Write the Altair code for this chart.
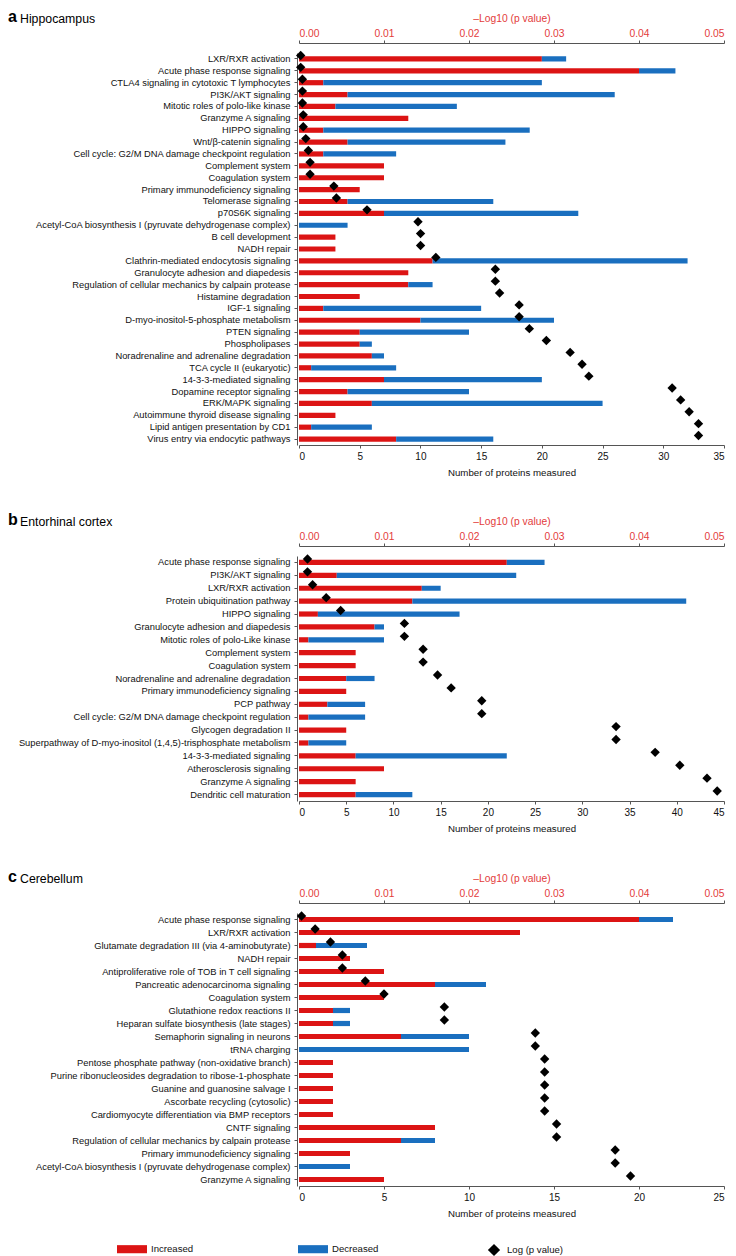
import altair as alt
import pandas as pd

# ---------------- data ----------------
cats_a = [
    "LXR/RXR activation", "Acute phase response signaling",
    "CTLA4 signaling in cytotoxic T lymphocytes", "PI3K/AKT signaling",
    "Mitotic roles of polo-like kinase", "Granzyme A signaling", "HIPPO signaling",
    "Wnt/β-catenin signaling", "Cell cycle: G2/M DNA damage checkpoint regulation",
    "Complement system", "Coagulation system", "Primary immunodeficiency signaling",
    "Telomerase signaling", "p70S6K signaling",
    "Acetyl-CoA biosynthesis I (pyruvate dehydrogenase complex)", "B cell development",
    "NADH repair", "Clathrin-mediated endocytosis signaling",
    "Granulocyte adhesion and diapedesis",
    "Regulation of cellular mechanics by calpain protease", "Histamine degradation",
    "IGF-1 signaling", "D-myo-inositol-5-phosphate metabolism", "PTEN signaling",
    "Phospholipases", "Noradrenaline and adrenaline degradation",
    "TCA cycle II (eukaryotic)", "14-3-3-mediated signaling",
    "Dopamine receptor signaling", "ERK/MAPK signaling",
    "Autoimmune thyroid disease signaling", "Lipid antigen presentation by CD1",
    "Virus entry via endocytic pathways",
]
inc_a = [20, 28, 2, 4, 3, 9, 2, 4, 2, 7, 7, 5, 4, 7, 0, 3, 3, 11, 9, 9, 5, 2, 10, 5, 5, 6, 1, 7, 4, 6, 3, 1, 8]
dec_a = [2, 3, 18, 22, 10, 0, 17, 13, 6, 0, 0, 0, 12, 16, 4, 0, 0, 21, 0, 2, 0, 13, 11, 9, 1, 1, 7, 13, 10, 19, 0, 5, 8]
p_a = [0.0002, 0.0002, 0.0004, 0.0004, 0.0004, 0.0005, 0.0005, 0.0008, 0.0011, 0.0013,
       0.0013, 0.0041, 0.0044, 0.0080, 0.0140, 0.0143, 0.0143, 0.0161, 0.0231, 0.0231,
       0.0236, 0.0259, 0.0259, 0.0271, 0.0291, 0.0319, 0.0333, 0.0341, 0.0439, 0.0449,
       0.0459, 0.0470, 0.0470]

cats_b = [
    "Acute phase response signaling", "PI3K/AKT signaling", "LXR/RXR activation",
    "Protein ubiquitination pathway", "HIPPO signaling",
    "Granulocyte adhesion and diapedesis", "Mitotic roles of polo-Like kinase",
    "Complement system", "Coagulation system",
    "Noradrenaline and adrenaline degradation", "Primary immunodeficiency signaling",
    "PCP pathway", "Cell cycle: G2/M DNA damage checkpoint regulation",
    "Glycogen degradation II",
    "Superpathway of D-myo-inositol (1,4,5)-trisphosphate metabolism",
    "14-3-3-mediated signaling", "Atherosclerosis signaling", "Granzyme A signaling",
    "Dendritic cell maturation",
]
inc_b = [22, 4, 13, 12, 2, 8, 1, 6, 6, 5, 5, 3, 1, 5, 1, 6, 9, 6, 6]
dec_b = [4, 19, 2, 29, 15, 1, 8, 0, 0, 3, 0, 4, 6, 0, 4, 16, 0, 0, 6]
p_b = [0.0010, 0.0010, 0.0016, 0.0032, 0.0049, 0.0124, 0.0124, 0.0146, 0.0146, 0.0163,
       0.0179, 0.0215, 0.0215, 0.0373, 0.0373, 0.0419, 0.0448, 0.0480, 0.0492]

cats_c = [
    "Acute phase response signaling", "LXR/RXR activation",
    "Glutamate degradation III (via 4-aminobutyrate)", "NADH repair",
    "Antiproliferative role of TOB in T cell signaling",
    "Pancreatic adenocarcinoma signaling", "Coagulation system",
    "Glutathione redox reactions II", "Heparan sulfate biosynthesis (late stages)",
    "Semaphorin signaling in neurons", "tRNA charging",
    "Pentose phosphate pathway (non-oxidative branch)",
    "Purine ribonucleosides degradation to ribose-1-phosphate",
    "Guanine and guanosine salvage I", "Ascorbate recycling (cytosolic)",
    "Cardiomyocyte differentiation via BMP receptors", "CNTF signaling",
    "Regulation of cellular mechanics by calpain protease",
    "Primary immunodeficiency signaling",
    "Acetyl-CoA biosynthesis I (pyruvate dehydrogenase complex)",
    "Granzyme A signaling",
]
inc_c = [20, 13, 1, 3, 5, 8, 5, 2, 2, 6, 0, 2, 2, 2, 2, 2, 8, 6, 3, 0, 5]
dec_c = [2, 0, 3, 0, 0, 3, 0, 1, 1, 4, 10, 0, 0, 0, 0, 0, 0, 2, 0, 3, 0]
p_c = [0.0003, 0.0019, 0.0037, 0.0051, 0.0051, 0.0078, 0.0100, 0.0171, 0.0171, 0.0278,
       0.0278, 0.0289, 0.0289, 0.0289, 0.0289, 0.0289, 0.0303, 0.0303, 0.0372, 0.0372,
       0.0390]

status_names = ["Increased", "Decreased"]
pval_name = "Log (p value)"
p_ticks = [0.0, 0.01, 0.02, 0.03, 0.04, 0.05]

# ---------------- style ----------------
RED = "#dc1414"
BLUE = "#1a6fbf"
TXT_RED = "#e33b3b"
GREY = "#555555"
FONT = "Liberation Sans"
W = 425

color_legend = alt.Legend(
    orient="none", legendX=-182, legendY=1181, direction="horizontal",
    title=None, symbolType="M-1,-0.27L1,-0.27L1,0.27L-1,0.27Z", symbolSize=900,
    symbolStrokeWidth=0, columnPadding=104, labelFont=FONT, labelFontSize=9.6,
    labelOffset=4, labelColor="#111",
)
shape_legend = alt.Legend(
    orient="none", legendX=188, legendY=1190, title=None, symbolSize=150,
    labelFont=FONT, labelFontSize=9.6, labelOffset=6, labelColor="#111",
    symbolFillColor="black", symbolStrokeColor="black",
)


def panel(letter, name, cats, inc, dec, pv, xmax, step):
    rows = []
    for c, i, d in zip(cats, inc, dec):
        if i > 0:
            rows.append({"pathway": c, "status": status_names[0], "n": i, "ord": 0})
        if d > 0:
            rows.append({"pathway": c, "status": status_names[1], "n": d, "ord": 1})
    bars_df = pd.DataFrame(rows)
    pts_df = pd.DataFrame({"pathway": cats, "p": pv, "series": pval_name})
    height = round(step * len(cats))

    yenc = alt.Y(
        "pathway:N", sort=cats,
        scale=alt.Scale(paddingInner=0, paddingOuter=0),
        axis=alt.Axis(title=None, labelFont=FONT, labelFontSize=9.35, labelColor="#111",
                      labelPadding=4, tickSize=3, tickColor=GREY, domainColor=GREY,
                      offset=2, labelLimit=400),
    )

    bars = alt.Chart(bars_df).mark_bar(size=5.2).encode(
        x=alt.X("n:Q", stack="zero",
                scale=alt.Scale(domain=[0, xmax], nice=False),
                axis=alt.Axis(values=list(range(0, xmax + 1, 5)),
                              title="Number of proteins measured", grid=False,
                              labelFont=FONT, labelFontSize=10, labelColor="#111",
                              titleFont=FONT, titleFontSize=9.7, titleFontWeight="normal",
                              titleColor="#111", titlePadding=6, tickSize=3,
                              tickColor=GREY, domainColor=GREY, labelPadding=3)),
        y=yenc,
        color=alt.Color("status:N",
                        scale=alt.Scale(domain=status_names, range=[RED, BLUE]),
                        legend=color_legend),
        order=alt.Order("ord:Q"),
    )

    pts = alt.Chart(pts_df).mark_point(
        filled=True, color="black", size=88, opacity=1, yOffset=-3.5
    ).encode(
        x=alt.X("p:Q", scale=alt.Scale(domain=[0, 0.05], nice=False),
                axis=alt.Axis(orient="top", values=p_ticks, format=".2f",
                              title="–Log10 (p value)", grid=False, offset=10,
                              labelFont=FONT, labelFontSize=10.3, labelColor=TXT_RED,
                              titleFont=FONT, titleFontSize=10.3,
                              titleFontWeight="normal", titleColor=TXT_RED,
                              titlePadding=5, tickSize=3, tickColor=GREY,
                              domainColor=GREY, labelPadding=2)),
        y=alt.Y("pathway:N", sort=cats),
        shape=alt.Shape("series:N",
                        scale=alt.Scale(domain=[pval_name], range=["diamond"]),
                        legend=shape_legend),
    )

    hdr_df = pd.DataFrame({"letter": [letter], "name": [name]})
    let_txt = alt.Chart(hdr_df).mark_text(
        font=FONT, fontSize=16, fontWeight="bold", align="left", baseline="alphabetic",
        color="black"
    ).encode(text="letter:N", x=alt.value(-291), y=alt.value(-31.5))
    name_txt = alt.Chart(hdr_df).mark_text(
        font=FONT, fontSize=12.3, align="left", baseline="alphabetic", color="black"
    ).encode(text="name:N", x=alt.value(-279), y=alt.value(-30))

    return alt.layer(bars, pts, let_txt, name_txt).resolve_scale(
        x="independent"
    ).properties(width=W, height=height)


pa = panel("a", "Hippocampus", cats_a, inc_a, dec_a, p_a, 35, 11.875)
pb = panel("b", "Entorhinal cortex", cats_b, inc_b, dec_b, p_b, 45, 12.88)
pc = panel("c", "Cerebellum", cats_c, inc_c, dec_c, p_c, 25, 13.0)

top = alt.vconcat(pa, pb, spacing=34)
chart = alt.vconcat(top, pc, spacing=35).resolve_scale(
    color="shared", shape="shared"
).properties(padding=0, background="white").configure_view(
    stroke="transparent", strokeWidth=0)

chart.save("out.html", embed_options={"renderer": "svg", "actions": False})
